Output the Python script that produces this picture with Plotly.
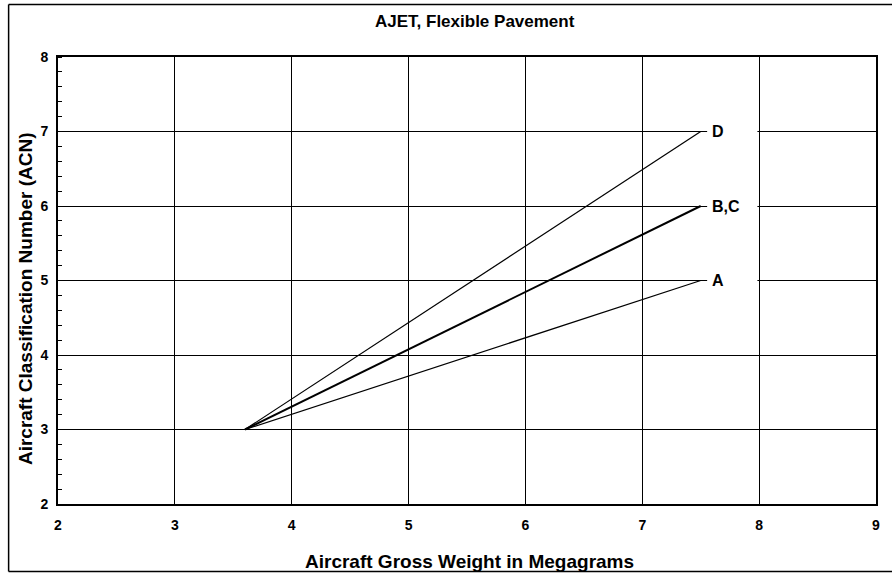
import plotly.graph_objects as go

# Data
series_names = ["A", "B,C", "D"]
x_start = [3.6, 3.6, 3.6]
y_start = [3.0, 3.0, 3.0]
x_end = [7.5, 7.5, 7.5]
y_end = [5.0, 6.0, 7.0]
line_widths = [1.2, 2.0, 1.2]
x_ticks = [2, 3, 4, 5, 6, 7, 8, 9]
y_ticks = [2, 3, 4, 5, 6, 7, 8]

FONT = "Liberation Sans, Arial, sans-serif"

fig = go.Figure()
for name, xs, ys, xe, ye, w in zip(series_names, x_start, y_start, x_end, y_end, line_widths):
    fig.add_trace(go.Scatter(x=[xs, xe], y=[ys, ye], mode="lines", name=name,
                             line=dict(color="black", width=w), showlegend=False,
                             hoverinfo="skip"))

shapes = []
annotations = []
for name, ye in zip(series_names, y_end):
    shapes.append(dict(type="rect", xref="x", yref="y", x0=7.555, x1=7.985,
                       y0=ye - 0.12, y1=ye + 0.12, fillcolor="white",
                       line=dict(width=0), layer="above"))
    annotations.append(dict(x=7.58, y=ye, xref="x", yref="y", text="<b>%s</b>" % name,
                            showarrow=False, xanchor="left", yanchor="middle",
                            font=dict(family=FONT, size=16, color="black")))

# titles
annotations.append(dict(x=(476.5 - 58) / 820, y=(504 - 22) / 447, xref="paper", yref="paper",
                        text="<b>AJET, Flexible Pavement</b>", showarrow=False,
                        xanchor="center", yanchor="middle",
                        font=dict(family=FONT, size=17, color="black")))
annotations.append(dict(x=(471 - 58) / 820, y=(504 - 561) / 447, xref="paper", yref="paper",
                        text="<b>Aircraft Gross Weight in Megagrams</b>", showarrow=False,
                        xanchor="center", yanchor="middle",
                        font=dict(family=FONT, size=19, color="black")))
annotations.append(dict(x=(25 - 58) / 820, y=(504 - 299) / 447, xref="paper", yref="paper",
                        text="<b>Aircraft Classification Number (ACN)</b>", showarrow=False,
                        xanchor="center", yanchor="middle", textangle=-90,
                        font=dict(family=FONT, size=19, color="black")))

# outer border: left, top, bottom edges (right edge lies outside the picture)
bx0 = (8.5 - 58) / 820
bx1 = 1.12
by0 = (504 - 571.5) / 447
by1 = (504 - 4.5) / 447
for (xa, ya, xb, yb) in [(bx0, by0, bx0, by1), (bx0, by1, bx1, by1), (bx0, by0, bx1, by0)]:
    shapes.append(dict(type="line", xref="paper", yref="paper", x0=xa, y0=ya, x1=xb, y1=yb,
                       line=dict(color="black", width=1.5), layer="above"))

fig.update_layout(
    width=892, height=573,
    margin=dict(l=58, r=14, t=57, b=69),
    paper_bgcolor="white", plot_bgcolor="white",
    shapes=shapes, annotations=annotations,
    font=dict(family=FONT, color="black"),
)

fig.update_xaxes(range=[2, 9], tickvals=x_ticks, ticktext=["<b>%d</b>" % v for v in x_ticks],
                 showgrid=True, gridcolor="black", gridwidth=1,
                 showline=True, linecolor="black", linewidth=2, mirror=True,
                 ticks="", ticklabelstandoff=7, zeroline=False,
                 tickfont=dict(family=FONT, size=14, color="black"))
fig.update_yaxes(range=[2, 8], tickvals=y_ticks, ticktext=["<b>%d</b>" % v for v in y_ticks],
                 showgrid=True, gridcolor="black", gridwidth=1,
                 showline=True, linecolor="black", linewidth=2, mirror=True,
                 ticks="", ticklabelstandoff=5, zeroline=False,
                 minor=dict(dtick=0.2, ticks="inside", ticklen=4, tickcolor="black",
                            tickwidth=1, showgrid=False),
                 tickfont=dict(family=FONT, size=14, color="black"))

fig.write_html("out.html", config={"displayModeBar": False},
               post_script="document.body.style.margin='0';document.body.style.overflow='hidden';")
